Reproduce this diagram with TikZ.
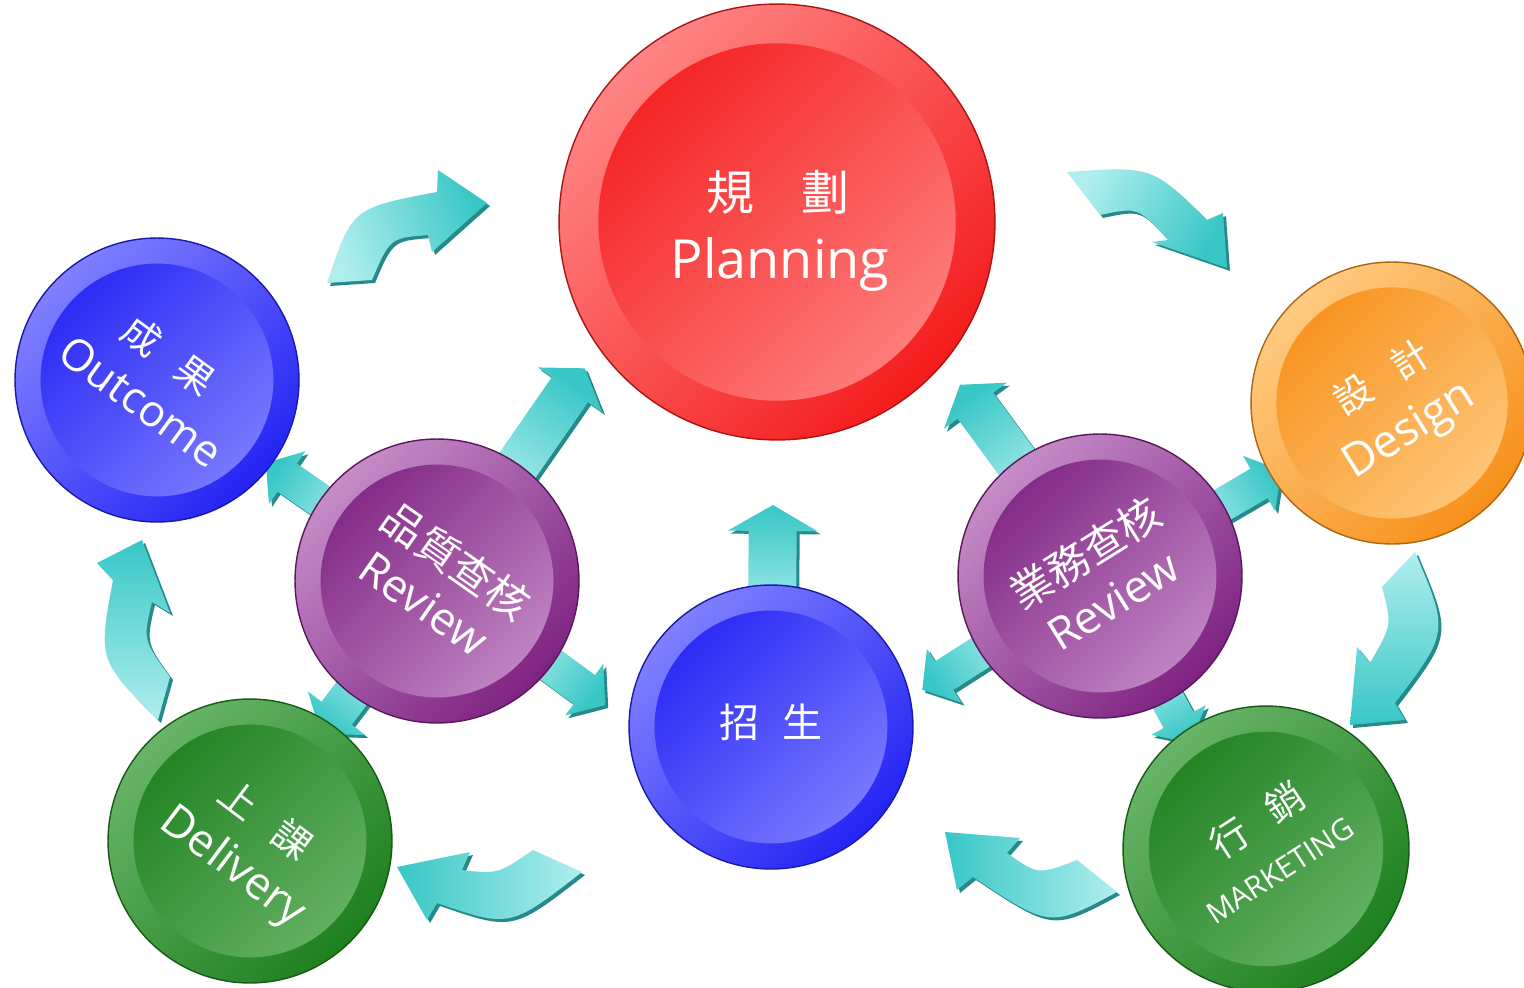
\documentclass[tikz,border=0pt]{standalone}
\usepackage{fontspec}
\setmainfont{Open Sans}
\newfontfamily\cjk{Noto Sans CJK TC}
\usetikzlibrary{calc,backgrounds}

\definecolor{redL}{HTML}{FF8585}
\definecolor{redD}{HTML}{F41C1C}
\definecolor{blueL}{HTML}{8080FF}
\definecolor{blueD}{HTML}{2424F4}
\definecolor{orangeL}{HTML}{FFCA80}
\definecolor{orangeD}{HTML}{F7901A}
\definecolor{purpleL}{HTML}{C58CC7}
\definecolor{purpleD}{HTML}{7E2282}
\definecolor{greenL}{HTML}{68B468}
\definecolor{greenD}{HTML}{1E801E}
\definecolor{tealL}{HTML}{B0EEEE}
\definecolor{tealD}{HTML}{38C6C6}
\definecolor{tealS}{HTML}{278A8A}

\tikzset{
    disc/.style n args={3}{circle, minimum size=#3cm, inner sep=0pt,
        draw=#2!70!black, line width=0.8pt,
        top color=#1, bottom color=#2, shading angle=45,
        path picture={\shade[top color=#2, bottom color=#1, shading angle=45]
            (path picture bounding box.center) circle[radius=0.41*#3cm];}},
    zh/.style={text=white, inner sep=0pt, font=\cjk\fontsize{#1}{#1}\selectfont},
    en/.style={text=white, inner sep=0pt, font=\fontsize{#1}{#1}\selectfont},
    arrow body/.style={top color=tealD, bottom color=tealL},
}

% outline of a straight block arrow leaving a disc
\newcommand\ArrowOutline[7]{%
    ($(#1)+(#7)+(#2:#3)+(#2+90:#5)$) -- ($(#1)+(#7)+(#2:#4-26)+(#2+90:#5)$)
    -- ($(#1)+(#7)+(#2:#4-26)+(#2+90:#6)$) -- ($(#1)+(#7)+(#2:#4)$)
    -- ($(#1)+(#7)+(#2:#4-26)+(#2-90:#6)$) -- ($(#1)+(#7)+(#2:#4-26)+(#2-90:#5)$)
    -- ($(#1)+(#7)+(#2:#3)+(#2-90:#5)$) -- cycle}
\newcommand\BlockArrow[6]{%
    \fill[tealS] \ArrowOutline{#1}{#2}{#3}{#4}{#5}{#6}{3,3};
    \pgfmathsetmacro\ArrowShade{-(#2)-90}
    \shade[arrow body, shading angle=\ArrowShade] \ArrowOutline{#1}{#2}{#3}{#4}{#5}{#6}{0,0};
}
\newcommand\BendArrow[2]{%
    \fill[tealS, shift={(3,3)}] #2;
    \shade[arrow body, shading angle=#1] #2;
}

\begin{document}
\begin{tikzpicture}[x=0.02cm, y=-0.02cm]
    \useasboundingbox (0,0) rectangle (1524,987);

    % discs
    \node[disc={redL}{redD}{8.72}]       (plan)      at (777,222)  {};
    \node[disc={blueL}{blueD}{5.68}]     (outcome)   at (157,380)  {};
    \node[disc={orangeL}{orangeD}{5.64}] (design)    at (1392,403) {};
    \node[disc={purpleL}{purpleD}{5.68}] (quality)   at (437,581)  {};
    \node[disc={purpleL}{purpleD}{5.68}] (business)  at (1100,576) {};
    \node[disc={blueL}{blueD}{5.68}]     (enrol)     at (771,727)  {};
    \node[disc={greenL}{greenD}{5.68}]   (delivery)  at (250,841)  {};
    \node[disc={greenL}{greenD}{5.72}]   (marketing) at (1266,849) {};

    % labels
    \node[zh=27.3] (plan-zh) at (778,192) {規　劃};
    \node[en=30.7] (plan-en) at (780,264) {Planning};
    \node[zh=22.8] (enrol-zh) at (771,722) {招\hspace{.58em}生};
    \begin{scope}[shift={(outcome.center)}, rotate=-36, transform shape]
        \node[zh=21.6] (outcome-zh) at (-5,-27) {成\hspace{.75em}果};
        \node[en=25] (outcome-en) at (0,27) {Outcome};
    \end{scope}
    \begin{scope}[shift={(design.center)}, rotate=32, transform shape]
        \node[zh=21.6] (design-zh) at (5,-28) {設\hspace{.75em}計};
        \node[en=26] (design-en) at (0,34) {Design};
    \end{scope}
    \begin{scope}[shift={(quality.center)}, rotate=-35, transform shape]
        \node[zh=24] (quality-zh) at (4,-27) {品質查核};
        \node[en=25.5] (quality-en) at (2,26) {Review};
    \end{scope}
    \begin{scope}[shift={(business.center)}, rotate=32, transform shape]
        \node[zh=24] (business-zh) at (0,-27) {業務查核};
        \node[en=25.5] (business-en) at (-2,28) {Review};
    \end{scope}
    \begin{scope}[shift={(delivery.center)}, rotate=-37, transform shape]
        \node[zh=21.6] (delivery-zh) at (0,-27) {上\hspace{.75em}課};
        \node[en=25.5] (delivery-en) at (2,32) {Delivery};
    \end{scope}
    \begin{scope}[shift={(marketing.center)}, rotate=33, transform shape]
        \node[zh=21.6] (marketing-zh) at (8,-29) {行\hspace{.75em}銷};
        \node[en=17] (marketing-en) at (0,26) {MARKETING};
    \end{scope}

    \begin{pgfonlayer}{background}
        % curved arrows round the ring
        \BendArrow{-70}{(327,283) .. controls (352,208) .. (437,192) -- (438,170) -- (487,203) -- (432,252) -- (428,235) .. controls (390,238) .. (372,280) -- cycle}
        \BendArrow{-120}{(1067,172) -- (1100,215) .. controls (1138,207) .. (1168,240) -- (1152,242) -- (1227,268) -- (1223,213) -- (1207,220) .. controls (1152,166) .. (1067,172) -- cycle}
        \BendArrow{-180}{(1382,587) -- (1415,552) .. controls (1449,632) .. (1395,703) -- (1405,720) -- (1350,725) -- (1357,647) -- (1370,663) .. controls (1392,625) .. (1382,587) -- cycle}
        \BendArrow{90}{(1077,860) -- (1117,892) .. controls (1050,928) .. (973,877) -- (957,890) -- (945,832) -- (1020,838) -- (1007,853) .. controls (1038,875) .. (1077,860) -- cycle}
        \BendArrow{90}{(533,850) -- (582,872) .. controls (510,928) .. (437,903) -- (427,920) -- (397,867) -- (470,852) -- (462,870) .. controls (498,874) .. (533,850) -- cycle}
        \BendArrow{0}{(170,677) -- (158,720) .. controls (98,660) .. (113,580) -- (97,563) -- (142,540) -- (170,613) -- (152,602) .. controls (143,640) .. (170,677) -- cycle}
        % straight arrows out of the discs
        \BlockArrow{quality}{-55.2}{100}{259}{22}{39}
        \BlockArrow{quality}{-145.4}{100}{208}{17}{32}
        \BlockArrow{quality}{127.2}{100}{192}{19}{36}
        \BlockArrow{quality}{36.4}{100}{209}{18}{32}
        \BlockArrow{business}{-126.2}{100}{237}{22}{39}
        \BlockArrow{business}{-30.2}{100}{210}{17}{32}
        \BlockArrow{business}{147.4}{100}{211}{17}{32}
        \BlockArrow{business}{61.4}{100}{190}{17}{31}
        \BlockArrow{enrol}{-89.5}{100}{222}{24}{45}
    \end{pgfonlayer}
\end{tikzpicture}
\end{document}
